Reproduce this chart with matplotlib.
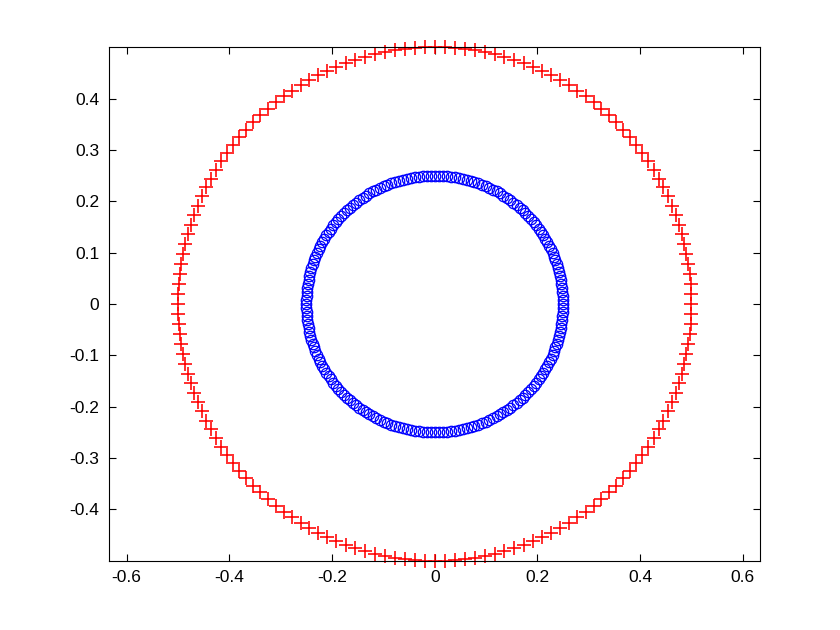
import numpy as np
import matplotlib
matplotlib.use("Agg")
import matplotlib.pyplot as plt

plt.rcParams['font.family'] = ['Liberation Sans', 'DejaVu Sans']

# data
outer_radius = 0.5
outer_count = 160
inner_radius = 0.25
inner_count = 200
x_ticks = [-0.6, -0.4, -0.2, 0, 0.2, 0.4, 0.6]
y_ticks = [-0.4, -0.3, -0.2, -0.1, 0, 0.1, 0.2, 0.3, 0.4]

t_out = np.linspace(0, 2 * np.pi, outer_count, endpoint=False)
t_in = np.linspace(0, 2 * np.pi, inner_count, endpoint=False)

fig = plt.figure(figsize=(8.4, 6.3), dpi=100)
ax = fig.add_axes([0.13, 0.11, 0.775, 0.815])

ax.plot(outer_radius * np.cos(t_out), outer_radius * np.sin(t_out), '+',
        color='red', markersize=9.5, markeredgewidth=1.15, clip_on=False)
ax.plot(inner_radius * np.cos(t_in), inner_radius * np.sin(t_in), 'o',
        color='blue', markerfacecolor='none', markersize=7.5, markeredgewidth=0.9)

ax.set_ylim(-0.5, 0.5)
xr = 0.5 * (0.775 * 8.4) / (0.815 * 6.3)
ax.set_xlim(-xr, xr)

ax.set_xticks(x_ticks)
ax.set_yticks(y_ticks)
ax.set_xticklabels(['-0.6', '-0.4', '-0.2', '0', '0.2', '0.4', '0.6'])
ax.set_yticklabels(['-0.4', '-0.3', '-0.2', '-0.1', '0', '0.1', '0.2', '0.3', '0.4'])
ax.tick_params(direction='in', length=5, width=0.8, top=True, right=True,
               labelsize=12.5, pad=7)
for s in ax.spines.values():
    s.set_linewidth(0.8)

fig.savefig('out.png', dpi=100)
